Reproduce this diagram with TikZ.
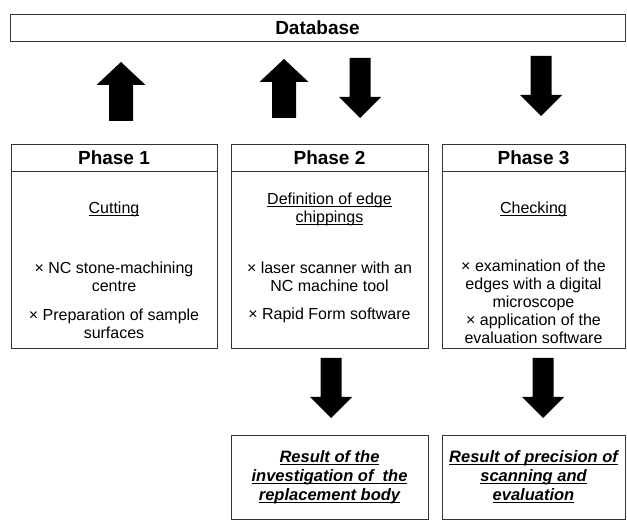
\documentclass[tikz,border=0pt]{standalone}
\usepackage{fontspec}
\setmainfont{Liberation Sans}
\usetikzlibrary{positioning}

% underline at a fixed depth
\newcommand\uln[1]{\leavevmode\setbox0=\hbox{#1}\rlap{\rule[-2.6pt]{\wd0}{0.9pt}}\box0}

\tikzset{
  box/.style={draw=black!80, line width=0.8pt, inner sep=0pt, outer sep=0pt},
  headtext/.style={font=\fontsize{19}{22}\selectfont\bfseries},
  bodytext/.style={font=\fontsize{16}{18}\selectfont, align=center, inner sep=0pt},
  resulttext/.style={font=\fontsize{16.5}{19}\selectfont\bfseries\itshape, align=center},
}

\begin{document}
\begin{tikzpicture}[x=1pt,y=-1pt]
    \useasboundingbox (0,0) rectangle (627,521);

    % Database on top
    \node[box, headtext, minimum width=615pt, minimum height=27pt] (db) at (317.5,27.5) {Database};

    % Phase boxes: header and body
    \foreach \i/\cx/\w in {1/114/206, 2/329.5/197, 3/533.5/183} {
            \node[box, headtext, minimum width=\w pt, minimum height=27pt] (head\i) at (\cx,157.5) {Phase \i};
            \node[box, minimum width=\w pt, minimum height=177pt, below=0pt of head\i] (body\i) {};
        }

    % Phase 1 texts
    \node[bodytext] (cutting) at (114,209) {\uln{Cutting}};
    \node[bodytext] (stone) at (114,277) {× NC stone-machining\\centre};
    \node[bodytext] (sample) at (114,324) {× Preparation of sample\\surfaces};

    % Phase 2 texts
    \node[bodytext] (edge) at (329.5,209) {\uln{Definition of edge}\\\uln{chippings}};
    \node[bodytext] (laser) at (329.5,277) {× laser scanner with an\\NC machine tool};
    \node[bodytext] (rapid) at (329.5,315) {× Rapid Form software};

    % Phase 3 texts
    \node[bodytext] (checking) at (533.5,209) {\uln{Checking}};
    \node[bodytext] (micro) at (533.5,285) {× examination of the\\edges with a digital\\microscope};
    \node[bodytext] (software) at (533.5,329) {× application of the\\evaluation software};

    % Result boxes
    \node[box, resulttext, minimum width=197pt, minimum height=84pt] (result2) at (329.5,477)
        {\uln{Result of the}\\\uln{investigation of~ the}\\\uln{replacement body}};
    \node[box, resulttext, minimum width=183pt, minimum height=84pt] (result3) at (533.5,477)
        {\uln{Result of precision of}\\\uln{scanning and}\\\uln{evaluation}};

    % Block arrows up (x / tail / tip)
    \foreach \x/\ytail/\ytip in {121/121/62, 284/118/59} {
            \fill (\x-12,\ytail) -- (\x-12,\ytip+23) -- (\x-24.5,\ytip+23) -- (\x,\ytip)
                -- (\x+24.5,\ytip+23) -- (\x+12,\ytip+23) -- (\x+12,\ytail) -- cycle;
        }

    % Block arrows down (x / tail / tip)
    \foreach \x/\ytail/\ytip in {360/58/118, 541/56/116, 331/358/418, 543/358/418} {
            \fill (\x-10.5,\ytail) -- (\x-10.5,\ytip-21) -- (\x-21,\ytip-21) -- (\x,\ytip)
                -- (\x+21,\ytip-21) -- (\x+10.5,\ytip-21) -- (\x+10.5,\ytail) -- cycle;
        }
\end{tikzpicture}
\end{document}
